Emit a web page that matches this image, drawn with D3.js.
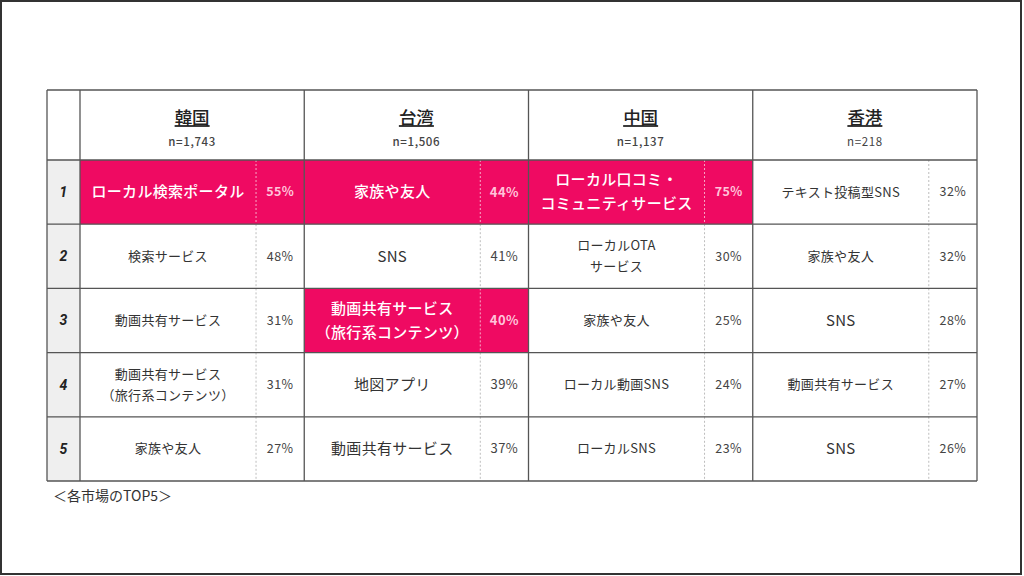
<!DOCTYPE html>
<html><head><meta charset="utf-8">
<script src="https://cdn.jsdelivr.net/npm/d3@7"></script>
<style>
html,body{margin:0;padding:0;background:#fff;}
svg{display:block;font-family:"Noto Sans CJK JP","Noto Sans",sans-serif;}
</style></head>
<body><svg id="c" width="1024" height="576"></svg>
<script>
// ---- data ----
const markets = ["韓国", "台湾", "中国", "香港"];
const sampleSizes = ["n=1,743", "n=1,506", "n=1,137", "n=218"];
const ranks = ["1", "2", "3", "4", "5"];
const koreaItems = ["ローカル検索ポータル", "検索サービス", "動画共有サービス", "動画共有サービス\n（旅行系コンテンツ）", "家族や友人"];
const koreaValues = [55, 48, 31, 31, 27];
const taiwanItems = ["家族や友人", "SNS", "動画共有サービス\n（旅行系コンテンツ）", "地図アプリ", "動画共有サービス"];
const taiwanValues = [44, 41, 40, 39, 37];
const chinaItems = ["ローカル口コミ・\nコミュニティサービス", "ローカルOTA\nサービス", "家族や友人", "ローカル動画SNS", "ローカルSNS"];
const chinaValues = [75, 30, 25, 24, 23];
const hongkongItems = ["テキスト投稿型SNS", "家族や友人", "SNS", "動画共有サービス", "SNS"];
const hongkongValues = [32, 32, 28, 27, 26];
const highlightRank = ["1", "1,3", "1", ""]; // highlighted ranks per market
const footnote = "＜各市場のTOP5＞";

// ---- styles (kept separate from data) ----
const largeText = {"台湾": [0,1,2,3,4], "韓国": [0], "中国": [0], "香港": [2,4]};
const PINK = "#ef0a62";

const items = [koreaItems, taiwanItems, chinaItems, hongkongItems];
const values = [koreaValues, taiwanValues, chinaValues, hongkongValues];

const svg = d3.select("#c");
// frame
svg.append("rect").attr("x",1).attr("y",1).attr("width",1020).attr("height",573)
  .attr("fill","#fff").attr("stroke","#333").attr("stroke-width",2);

const tLeft = 47, rankRight = 80, tRight = 977, tTop = 90, headBottom = 160, tBottom = 481;
const x = d3.scaleBand().domain(markets).range([rankRight, tRight]).paddingInner(0).paddingOuter(0);
const y = d3.scaleBand().domain(ranks).range([headBottom, tBottom]);
const itemFrac = 0.785;

// rank column background
svg.append("rect").attr("x",tLeft).attr("y",headBottom).attr("width",rankRight-tLeft).attr("height",tBottom-headBottom).attr("fill","#efefef");

// cells
const cells = [];
markets.forEach((m, mi) => {
  ranks.forEach((r, ri) => {
    cells.push({m, mi, r, ri, text: items[mi][ri], v: values[mi][ri],
      hl: highlightRank[mi].split(",").includes(r), large: (largeText[m]||[]).includes(ri)});
  });
});

svg.append("g").selectAll("rect").data(cells.filter(d=>d.hl)).join("rect")
  .attr("x", d=>x(d.m)).attr("y", d=>y(d.r)).attr("width", x.bandwidth()).attr("height", y.bandwidth())
  .attr("fill", PINK);

// dashed separators
svg.append("g").selectAll("line").data(cells).join("line")
  .attr("x1", d=>x(d.m)+x.bandwidth()*itemFrac).attr("x2", d=>x(d.m)+x.bandwidth()*itemFrac)
  .attr("y1", d=>y(d.r)).attr("y2", d=>y(d.r)+y.bandwidth())
  .attr("stroke", d=>d.hl ? "#f7a8c6" : "#bdbdbd").attr("stroke-width",1).attr("stroke-dasharray","2,2");

// item text
cells.forEach(d => {
  const lines = d.text.split("\n");
  const fs = d.large ? 15 : 13;
  const lh = fs * 1.6;
  const cx = x(d.m) + x.bandwidth()*itemFrac/2;
  const cy = y(d.r) + y.bandwidth()/2;
  const t = svg.append("text").attr("text-anchor","middle")
    .attr("font-size", fs).attr("fill", d.hl ? "#fff" : "#333")
    .attr("font-weight", d.hl ? 500 : 400).attr("letter-spacing", 0.3);
  lines.forEach((ln, i) => {
    t.append("tspan").attr("x", cx)
      .attr("y", cy + (i - (lines.length-1)/2)*lh).attr("dy","0.35em").text(ln);
  });
  svg.append("text").attr("text-anchor","middle")
    .attr("x", x(d.m) + x.bandwidth()*(1+itemFrac)/2).attr("y", cy).attr("dy","0.35em")
    .attr("font-size", d.m === "台湾" ? 13 : 12.5).attr("letter-spacing", 0.4)
    .attr("font-weight", d.hl ? 700 : 400)
    .attr("fill", d.hl ? "#ffc4da" : "#444")
    .text(d.v + "%");
});

// rank labels
svg.append("g").selectAll("text").data(ranks).join("text")
  .attr("x", (tLeft+rankRight)/2).attr("y", d=>y(d)+y.bandwidth()/2).attr("dy","0.35em")
  .attr("text-anchor","middle").attr("font-size",14).attr("font-style","italic").attr("font-weight",700)
  .attr("fill","#222").attr("font-family","Roboto, sans-serif").text(d=>d);

// headers
markets.forEach((m, i) => {
  const cx = x(m) + x.bandwidth()/2;
  svg.append("text").attr("x", cx).attr("y", 118).attr("dy","0.35em").attr("text-anchor","middle")
    .attr("font-size",17.5).attr("font-weight",500).attr("fill","#222")
    .attr("text-decoration","underline").text(m);
  svg.append("text").attr("x", cx).attr("y", 142).attr("dy","0.35em").attr("text-anchor","middle")
    .attr("font-size",11.5).attr("letter-spacing",0.6).attr("font-weight", i===3 ? 400 : 500).attr("fill","#444").text(sampleSizes[i]);
});

// grid lines
const lineColor = "#555";
const hLines = [tTop, headBottom].concat(ranks.slice(1).map(r=>y(r))).concat([tBottom]);
svg.append("g").selectAll("line").data(hLines).join("line")
  .attr("x1", tLeft).attr("x2", tRight).attr("y1", d=>d).attr("y2", d=>d)
  .attr("stroke", lineColor).attr("stroke-width", 1.3);
const vLines = [tLeft, rankRight].concat(markets.slice(1).map(m=>x(m))).concat([tRight]);
svg.append("g").selectAll("line").data(vLines).join("line")
  .attr("x1", d=>d).attr("x2", d=>d).attr("y1", tTop).attr("y2", tBottom)
  .attr("stroke", lineColor).attr("stroke-width", 1.3);

// footnote
svg.append("text").attr("x", 53).attr("y", 496).attr("dy","0.35em")
  .attr("font-size",14).attr("fill","#333").text(footnote);
</script></body></html>
